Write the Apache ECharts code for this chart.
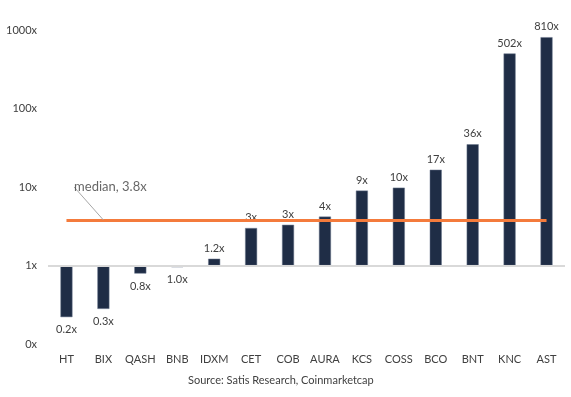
<!DOCTYPE html>
<html><head><meta charset="utf-8">
<script src="https://cdn.jsdelivr.net/npm/echarts@6/dist/echarts.min.js"></script>
<style>html,body{margin:0;padding:0;background:#fff}#c{width:571px;height:397px}</style>
</head><body><div id="c"></div>
<script>
const categories = ['HT','BIX','QASH','BNB','IDXM','CET','COB','AURA','KCS','COSS','BCO','BNT','KNC','AST'];
const values = [0.22, 0.28, 0.79, 0.95, 1.22, 3.0, 3.3, 4.2, 9.0, 9.8, 16.6, 35, 502, 810];
const valueLabels = ['0.2x','0.3x','0.8x','1.0x','1.2x','3x','3x','4x','9x','10x','17x','36x','502x','810x'];
const median = 3.8;
const medianLabel = 'median, 3.8x';
const baseline = 1;
const yTicks = [0.1, 1, 10, 100, 1000];
const source = 'Source: Satis Research, Coinmarketcap';

const FONT = 'Lato';
const chart = echarts.init(document.getElementById('c'));
chart.setOption({
  animation: false,
  textStyle: { fontFamily: FONT },
  title: { text: source, left: 183, bottom: 6,
    textStyle: { fontFamily: FONT, fontSize: 11, fontWeight: 'normal', color: '#404040' } },
  grid: { left: 48, right: 6, top: 30, bottom: 53 },
  xAxis: { type: 'category', data: categories,
    axisLine: { show: false }, axisTick: { show: false },
    axisLabel: { color: '#404040', fontSize: 11, margin: 10, fontFamily: FONT, interval: 0 } },
  yAxis: { type: 'log', logBase: 10, min: yTicks[0], max: yTicks[yTicks.length-1],
    axisLine: { show: false }, axisTick: { show: false }, splitLine: { show: false },
    axisLabel: { color: '#404040', fontSize: 11, margin: 11, fontFamily: FONT,
      formatter: v => Math.round(v) + 'x' } },
  series: [
    { type: 'line', data: [], z: 1,
      markLine: { silent: true, symbol: 'none', label: { show: false },
        lineStyle: { color: '#d9d9d9', width: 2, type: 'solid' },
        data: [{ yAxis: baseline }] }
    },
    { type: 'bar', barWidth: 12, z: 3,
      data: values.map((v, i) => ({ value: v,
        label: { position: v < 1 ? 'bottom' : 'top', distance: v < 1 ? 7 : 5 } })),
      itemStyle: { color: '#1f2d46', borderColor: '#6b778c', borderWidth: 0.5 },
      label: { show: true, color: '#404040', fontSize: 11, fontFamily: FONT,
        formatter: p => valueLabels[p.dataIndex] }
    },
    { type: 'line', data: [], z: 5,
      markLine: { silent: true, symbol: 'none', label: { show: false },
        lineStyle: { color: '#f47b3c', width: 3, type: 'solid' },
        data: [[{ coord: [0, median] }, { coord: [categories.length - 1, median] }]] }
    },
    { type: 'scatter', z: 6, symbolSize: 0, data: [[1, median]],
      label: { show: true, position: 'inside', color: '#404040', fontSize: 13, fontFamily: FONT,
        formatter: medianLabel },
      labelLayout: { dx: 7, dy: -33 },
      labelLine: { show: true, lineStyle: { color: '#a6a6a6', width: 1 } }
    }
  ]
});
</script></body></html>
